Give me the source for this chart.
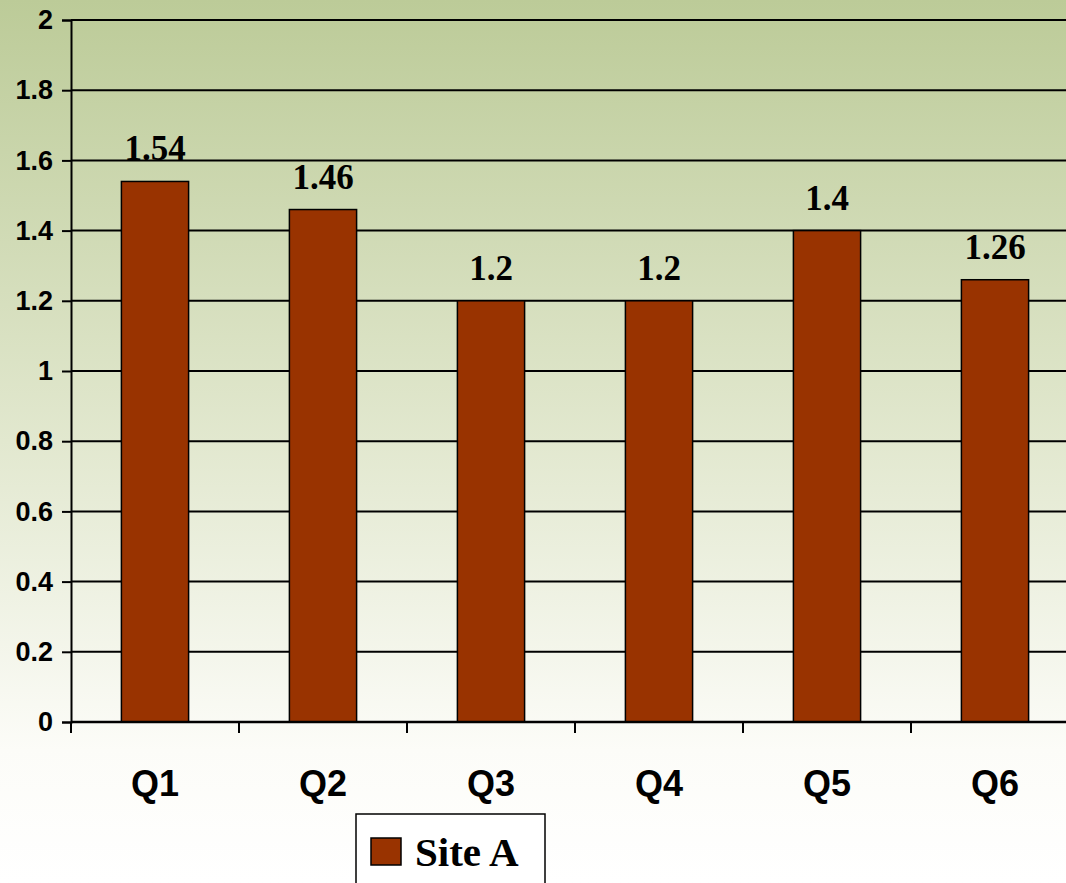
<!DOCTYPE html>
<html>
<head>
<meta charset="utf-8">
<script src="https://cdn.jsdelivr.net/npm/d3@7"></script>
<style>
  body { margin: 0; overflow: hidden; }
</style>
</head>
<body>
<div id="chart"></div>
<script>
const width = 1066;
const height = 883;
const margin = { top: 20, right: -13, bottom: 161, left: 71 };

const categories = ["Q1", "Q2", "Q3", "Q4", "Q5", "Q6"];
const values = [1.54, 1.46, 1.2, 1.2, 1.4, 1.26];
const yTicks = [0, 0.2, 0.4, 0.6, 0.8, 1, 1.2, 1.4, 1.6, 1.8, 2];
const seriesName = "Site A";

const barColor = "#993300";

const svg = d3
  .select("#chart")
  .append("svg")
  .attr("width", width)
  .attr("height", height);

// background gradient
const grad = svg
  .append("defs")
  .append("linearGradient")
  .attr("id", "bg")
  .attr("x1", 0)
  .attr("y1", 0)
  .attr("x2", 0)
  .attr("y2", 1);
grad.append("stop").attr("offset", "0%").attr("stop-color", "#bccb98");
grad.append("stop").attr("offset", "50%").attr("stop-color", "#e2e8cf");
grad.append("stop").attr("offset", "85%").attr("stop-color", "#fcfcf8");
grad.append("stop").attr("offset", "100%").attr("stop-color", "#ffffff");

svg
  .append("rect")
  .attr("width", width)
  .attr("height", height)
  .attr("fill", "url(#bg)");

const x = d3
  .scaleBand()
  .domain(categories)
  .range([margin.left, width - margin.right])
  .paddingInner(0.6)
  .paddingOuter(0.3);

const y = d3
  .scaleLinear()
  .domain([0, 2])
  .range([height - margin.bottom, margin.top]);

// gridlines
svg
  .append("g")
  .selectAll("line")
  .data(yTicks.slice(1))
  .join("line")
  .attr("x1", margin.left)
  .attr("x2", width)
  .attr("y1", (d) => y(d))
  .attr("y2", (d) => y(d))
  .attr("stroke", "#000")
  .attr("stroke-width", 2);

// bars
svg
  .append("g")
  .selectAll("rect")
  .data(values)
  .join("rect")
  .attr("x", (d, i) => x(categories[i]))
  .attr("y", (d) => y(d))
  .attr("width", x.bandwidth())
  .attr("height", (d) => y(0) - y(d))
  .attr("fill", barColor)
  .attr("stroke", "#000")
  .attr("stroke-width", 1.5);

// value labels
svg
  .append("g")
  .selectAll("text")
  .data(values)
  .join("text")
  .attr("x", (d, i) => x(categories[i]) + x.bandwidth() / 2)
  .attr("y", (d) => y(d) - 21)
  .attr("text-anchor", "middle")
  .attr("font-family", "'Liberation Serif', serif")
  .attr("font-weight", "bold")
  .attr("font-size", "35px")
  .text((d) => d);

// y axis
const yAxis = (g) =>
  g
    .attr("transform", `translate(${margin.left},0)`)
    .call(
      d3
        .axisLeft(y)
        .tickValues(yTicks)
        .tickSize(9)
        .tickPadding(9)
        .tickFormat((d) => d)
    )
    .call((g) => g.selectAll("path, line").attr("stroke", "#000").attr("stroke-width", 2))
    .call((g) =>
      g
        .selectAll("text")
        .attr("font-family", "'Liberation Sans', Arial, sans-serif")
        .attr("font-weight", "bold")
        .attr("font-size", "27px")
        .attr("fill", "#000")
    );
svg.append("g").call(yAxis);

// x axis
const xStep = x.step();
const xAxis = (g) =>
  g
    .attr("transform", `translate(0,${y(0)})`)
    .call((g) =>
      g
        .append("line")
        .attr("x1", margin.left)
        .attr("x2", width)
        .attr("stroke", "#000")
        .attr("stroke-width", 2.5)
    )
    .call((g) =>
      g
        .selectAll(".tk")
        .data(categories)
        .join("line")
        .attr("class", "tk")
        .attr("x1", (d) => x(d) - (xStep - x.bandwidth()) / 2)
        .attr("x2", (d) => x(d) - (xStep - x.bandwidth()) / 2)
        .attr("y1", 0)
        .attr("y2", 11)
        .attr("stroke", "#000")
        .attr("stroke-width", 2)
    )
    .call((g) =>
      g
        .selectAll(".lbl")
        .data(categories)
        .join("text")
        .attr("class", "lbl")
        .attr("x", (d) => x(d) + x.bandwidth() / 2)
        .attr("y", 74)
        .attr("text-anchor", "middle")
        .attr("font-family", "'Liberation Sans', Arial, sans-serif")
        .attr("font-weight", "bold")
        .attr("font-size", "36px")
        .text((d) => d)
    );
svg.append("g").call(xAxis);

// legend
const legend = svg.append("g").attr("transform", "translate(356,814)");
legend
  .append("rect")
  .attr("width", 189)
  .attr("height", 80)
  .attr("fill", "#fff")
  .attr("stroke", "#000")
  .attr("stroke-width", 1.5);
legend
  .append("rect")
  .attr("x", 15)
  .attr("y", 24)
  .attr("width", 30)
  .attr("height", 27)
  .attr("fill", barColor)
  .attr("stroke", "#000")
  .attr("stroke-width", 1.5);
legend
  .append("text")
  .attr("x", 59)
  .attr("y", 52)
  .attr("font-family", "'Liberation Serif', serif")
  .attr("font-weight", "bold")
  .attr("font-size", "41px")
  .text(seriesName);
</script>
</body>
</html>
